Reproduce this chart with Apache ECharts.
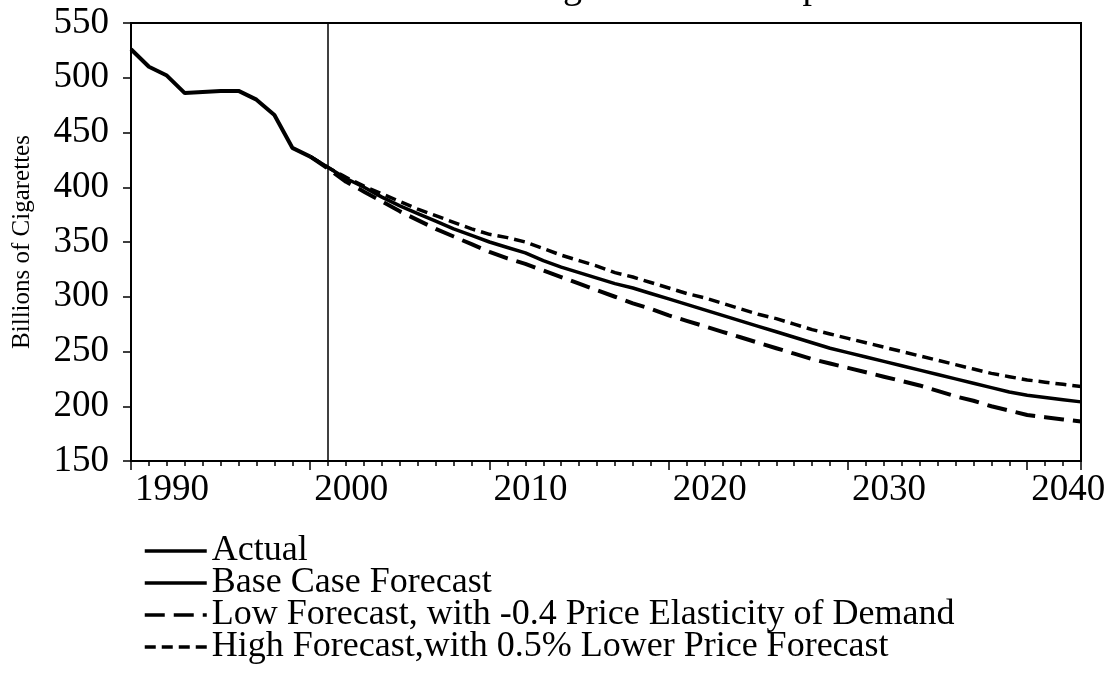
<!DOCTYPE html>
<html>
<head>
<meta charset="utf-8">
<script src="https://cdn.jsdelivr.net/npm/echarts@6/dist/echarts.min.js"></script>
<style>
	html, body { margin: 0; padding: 0; background: #fff; }
	#chart { width: 1107px; height: 680px; }
</style>
</head>
<body>
<div id="chart"></div>
<script>
	// values (billions of cigarettes)
	var actualYears = [1990, 1991, 1992, 1993, 1994, 1995, 1996, 1997, 1998, 1999, 2000]
	var actualValues = [526, 510, 502, 486, 487, 488, 488, 480, 466, 436, 428]

	var forecastYears = [2000, 2001, 2002, 2003, 2004, 2005, 2006, 2007, 2008, 2009,
		2010, 2011, 2012, 2013, 2014, 2015, 2016, 2017, 2018, 2019,
		2020, 2021, 2022, 2023, 2024, 2025, 2026, 2027, 2028, 2029,
		2030, 2031, 2032, 2033, 2034, 2035, 2036, 2037, 2038, 2039,
		2040, 2041, 2042, 2043]
	var baseValues = [428, 418, 408, 400, 391, 383, 376, 369, 362, 356,
		350, 345, 340, 333, 327, 322, 317, 312, 308, 303,
		298, 293, 288, 283, 278, 273, 268, 263, 258, 253,
		249, 245, 241, 237, 233, 229, 225, 221, 217, 213,
		210, 208, 206, 204]
	var lowValues = [428, 417, 405, 396, 387, 378, 370, 362, 355, 348,
		341, 335, 330, 324, 318, 312, 306, 300, 294, 289,
		283, 278, 273, 268, 263, 258, 253, 248, 243, 239,
		235, 231, 227, 223, 219, 214, 209, 205, 200, 196,
		192, 190, 188, 186]
	var highValues = [428, 418, 409, 401, 394, 387, 380, 374, 368, 362,
		357, 354, 350, 344, 338, 333, 328, 322, 318, 313,
		308, 303, 299, 294, 289, 284, 280, 275, 270, 266,
		262, 258, 254, 250, 246, 242, 238, 234, 230, 227,
		224, 222, 220, 218]

	var yTicks = [150, 200, 250, 300, 350, 400, 450, 500, 550]
	var xLabelYears = [1990, 2000, 2010, 2020, 2030, 2040]
	var dividerYear = 2001

	var seriesNames = ['Actual', 'Base Case Forecast',
		'Low Forecast, with -0.4 Price Elasticity of Demand',
		'High Forecast,with 0.5% Lower Price Forecast']

	function pairs(xs, ys) {
		var out = []
		for (let i = 0; i < xs.length; i++) {
			out.push([xs[i], ys[i]])
		}
		return out
	}

	var font = "'Liberation Serif', 'Times New Roman', serif"
	var chart = echarts.init(document.getElementById('chart'))

	var option = {
		backgroundColor: '#fff',
		animation: false,
		title: {
			text: 'U.S. Cigarette Consumption',
			left: 450,
			top: -31,
			padding: 0,
			textStyle: { fontFamily: font, fontSize: 38, fontWeight: 'normal', color: '#000' }
		},
		legend: {
			orient: 'vertical',
			left: 143,
			top: 533,
			padding: 0,
			itemWidth: 62,
			itemHeight: 14,
			itemGap: -4,
			data: seriesNames,
			itemStyle: { opacity: 0, borderWidth: 0 },
			lineStyle: { width: 3.5 },
			textStyle: { fontFamily: font, fontSize: 36, color: '#000' }
		},
		grid: {
			left: 131,
			right: 26,
			top: 23,
			bottom: 219,
			containLabel: false,
			outerBoundsMode: 'none',
			show: true,
			borderColor: '#000',
			borderWidth: 2,
			backgroundColor: 'transparent'
		},
		xAxis: [{
			type: 'value',
			min: 1990,
			max: 2043,
			interval: 1,
			axisLine: { lineStyle: { color: '#000', width: 2 } },
			axisTick: { show: true, inside: false, length: 5, lineStyle: { color: '#000', width: 1.5 } },
			splitLine: { show: false },
			axisLabel: {
				color: '#000',
				fontFamily: font,
				fontSize: 37,
				margin: 11,
				padding: [0, 0, 0, 82],
				showMaxLabel: false,
				formatter: function (v) {
					return xLabelYears.indexOf(v) >= 0 ? String(v) : ''
				}
			}
		}, {
			type: 'value',
			position: 'bottom',
			min: 1990,
			max: 2043,
			interval: 10,
			axisLine: { show: false },
			axisTick: { show: true, inside: false, length: 9, lineStyle: { color: '#000', width: 1.5 } },
			axisLabel: { show: false },
			splitLine: { show: false }
		}],
		yAxis: {
			type: 'value',
			min: yTicks[0],
			max: yTicks[yTicks.length - 1],
			interval: 50,
			name: 'Billions of Cigarettes',
			nameLocation: 'middle',
			nameGap: 96,
			nameTextStyle: { fontFamily: font, fontSize: 25, color: '#000' },
			axisLine: { show: true, lineStyle: { color: '#000', width: 2 } },
			axisTick: { show: true, inside: false, length: 8, lineStyle: { color: '#000', width: 1.5 } },
			splitLine: { show: false },
			axisLabel: { color: '#000', fontFamily: font, fontSize: 37, margin: 22 }
		},
		series: [
			{
				name: seriesNames[0],
				type: 'line',
				symbol: 'none',
				data: pairs(actualYears, actualValues),
				lineStyle: { color: '#000', width: 4 },
				itemStyle: { color: '#000' },
				markLine: {
					silent: true,
					symbol: ['none', 'none'],
					label: { show: false },
					lineStyle: { color: '#000', width: 1.5, type: 'solid' },
					data: [{ xAxis: dividerYear }]
				}
			},
			{
				name: seriesNames[1],
				type: 'line',
				symbol: 'none',
				data: pairs(forecastYears, baseValues),
				lineStyle: { color: '#000', width: 3.5 },
				itemStyle: { color: '#000' }
			},
			{
				name: seriesNames[2],
				type: 'line',
				symbol: 'none',
				data: pairs(forecastYears, lowValues),
				lineStyle: { color: '#000', width: 4, type: [20, 9] },
				itemStyle: { color: '#000' }
			},
			{
				name: seriesNames[3],
				type: 'line',
				symbol: 'none',
				data: pairs(forecastYears, highValues),
				lineStyle: { color: '#000', width: 3.5, type: [11, 6] },
				itemStyle: { color: '#000' }
			}
		]
	}
	chart.setOption(option)
</script>
</body>
</html>
